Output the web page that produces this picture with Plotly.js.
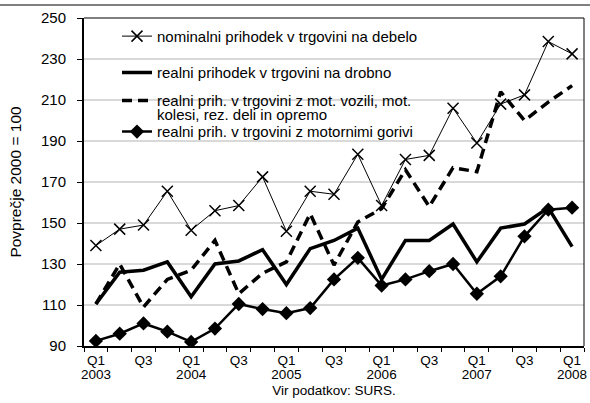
<!DOCTYPE html>
<html>
<head>
<meta charset="utf-8">
<script src="https://cdn.plot.ly/plotly-3.0.1.min.js"></script>
<style>
html,body{margin:0;padding:0;background:#fff;}
#chart{width:590px;height:403px;}
</style>
</head>
<body>
<div id="chart"></div>
<script>
// Quarters Q1 2003 .. Q1 2008
const quarters = ["Q1 2003","Q2 2003","Q3 2003","Q4 2003","Q1 2004","Q2 2004","Q3 2004","Q4 2004",
  "Q1 2005","Q2 2005","Q3 2005","Q4 2005","Q1 2006","Q2 2006","Q3 2006","Q4 2006",
  "Q1 2007","Q2 2007","Q3 2007","Q4 2007","Q1 2008"];
const nominalWholesale = [139,147,149,165.5,146.5,156,158.5,172.5,146,165.5,164,183.5,158.5,181,183,206,189,208,212.5,238.5,232.5];
const realRetail = [110.5,126,127,131,114,130,131.5,137,120,137.5,141.5,147.5,122.5,141.5,141.5,149.5,131,147.5,149.5,157.5,138.5];
const realMotorVehicles = [110.5,130,109,122.5,127,141.5,115.5,125.5,131,154.5,129.5,150.5,157,176,158,177,175,214,200,209,217];
const realMotorFuels = [92.5,96,101,97,92,98.5,110.5,108,106,108.5,122.5,133,119.5,122.5,126.5,130,115.5,124,143.5,156.5,157.5];
const quarterTickPositions = [0,2,4,6,8,10,12,14,16,18,20];
const quarterTickLabels = ["Q1","Q3","Q1","Q3","Q1","Q3","Q1","Q3","Q1","Q3","Q1"];
const yearTickPositions = [0,4,8,12,16,20];
const yearTickLabels = ["2003","2004","2005","2006","2007","2008"];
const seriesNames = ["nominalni prihodek v trgovini na debelo","realni prihodek v trgovini na drobno",
  "realni prih. v trgovini z mot. vozili, mot.","realni prih. v trgovini z motornimi gorivi"];
const seriesNameCont = "kolesi, rez. deli in opremo";

const xIdx = quarters.map((q,i)=>i);
const FONT = "'Liberation Sans', Arial, sans-serif";
const LEGSIZE = 15;

const traces = [
  {x:xIdx, y:nominalWholesale, name:seriesNames[0], mode:"lines+markers", legend:"legend",
   line:{color:"#000",width:1}, marker:{symbol:"x-thin-open",size:11,line:{color:"#000",width:1.5}}},
  {x:xIdx, y:realRetail, name:seriesNames[1], mode:"lines", legend:"legend2",
   line:{color:"#000",width:3.5}},
  {x:xIdx, y:realMotorVehicles, name:seriesNames[2], mode:"lines", legend:"legend3",
   line:{color:"#000",width:3.5,dash:"10px,6px"}},
  {x:xIdx, y:realMotorFuels, name:seriesNames[3], mode:"lines+markers", legend:"legend4",
   line:{color:"#000",width:2.5}, marker:{symbol:"diamond",size:11,color:"#000"}},
  // carrier for the year-label axis (no visible marks)
  {x:[], y:[], xaxis:"x2", yaxis:"y", mode:"lines", showlegend:false, hoverinfo:"skip"}
];

function leg(y){
  return {x:0.066, y:y, xanchor:"left", yanchor:"middle", bgcolor:"rgba(0,0,0,0)",
    font:{family:FONT,size:LEGSIZE,color:"#000"}, itemwidth:30};
}

const layout = {
  width:590, height:403,
  margin:{l:84, r:6, t:18, b:57},
  paper_bgcolor:"#fff", plot_bgcolor:"#fff",
  font:{family:FONT, size:13, color:"#000"},
  showlegend:true,
  legend:leg(0.944), legend2:leg(0.833), legend3:leg(0.748), legend4:leg(0.653),
  xaxis:{range:[-0.5,20.5], tickmode:"array", tickvals:quarterTickPositions, ticktext:quarterTickLabels,
    ticks:"", showgrid:false, zeroline:false, showline:true, linecolor:"#000", linewidth:2,
    tickfont:{family:FONT,size:13.5,color:"#000"}, ticklabelstandoff:1,
    minor:{tick0:-0.5, dtick:1, ticks:"outside", ticklen:4, tickcolor:"#000", tickwidth:1, showgrid:false},
    title:{text:"Vir podatkov: SURS.", font:{family:FONT,size:13.5,color:"#000"}, standoff:18}},
  xaxis2:{range:[-0.5,20.5], overlaying:"x", side:"bottom", anchor:"y", tickmode:"array",
    tickvals:yearTickPositions, ticktext:yearTickLabels, ticks:"", showgrid:false, zeroline:false,
    showline:false, tickfont:{family:FONT,size:13.5,color:"#000"}, ticklabelstandoff:18},
  yaxis:{range:[90,250], tickmode:"linear", tick0:90, dtick:20, ticks:"outside", ticklen:5, tickcolor:"#000",
    showgrid:true, gridcolor:"#d9d9d9", gridwidth:1.5, zeroline:false, showline:true, linecolor:"#000", linewidth:2,
    tickfont:{family:FONT,size:15,color:"#000"}, ticklabelstandoff:8,
    title:{text:"Povprečje 2000 = 100", font:{family:FONT,size:15.5,color:"#000"}, standoff:16}},
  annotations:[
    {text:seriesNameCont, xref:"paper", yref:"paper", x:0.141, y:0.705, xanchor:"left", yanchor:"middle",
     showarrow:false, font:{family:FONT,size:LEGSIZE,color:"#000"}}
  ],
  shapes:[
    {type:"line", xref:"paper", yref:"paper", x0:0, x1:1, y0:1, y1:1, line:{color:"#000",width:1}},
    {type:"line", xref:"paper", yref:"paper", x0:1, x1:1, y0:0, y1:1, line:{color:"#000",width:1}},
    {type:"line", xref:"paper", yref:"paper", x0:-0.2, x1:1.1, y0:1.0396, y1:1.0396, line:{color:"#000",width:1}}
  ]
};

Plotly.newPlot("chart", traces, layout, {displayModeBar:false, staticPlot:true});
</script>
</body>
</html>
